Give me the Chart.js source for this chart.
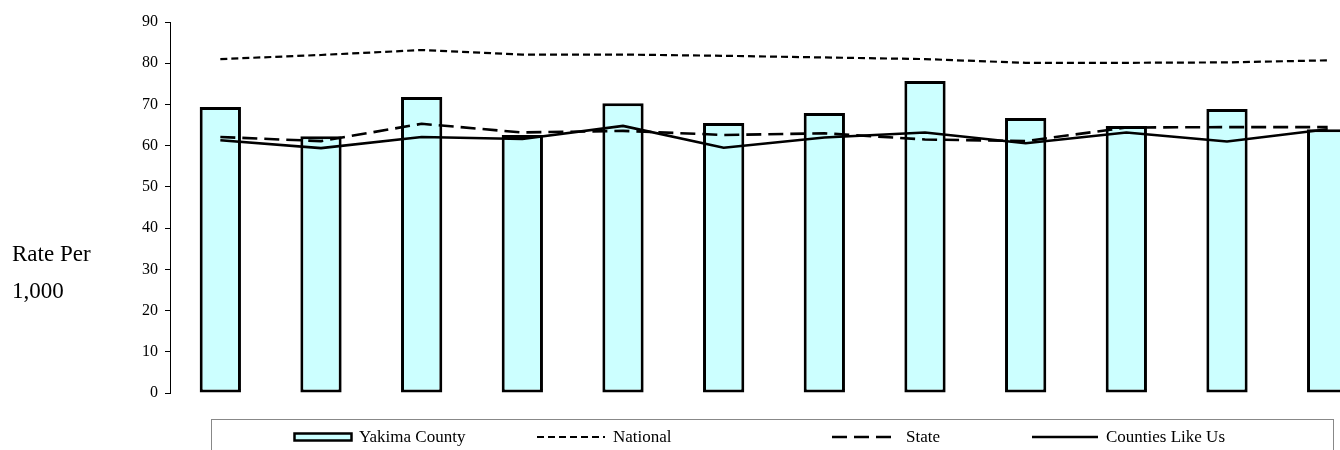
<!DOCTYPE html>
<html>
<head>
<meta charset="utf-8">
<script src="https://cdn.jsdelivr.net/npm/chart.js@4.4.0/dist/chart.umd.min.js"></script>
<style>
  body { margin: 0; width: 1340px; height: 450px; overflow: hidden; background: #fff; position: relative;
         font-family: "Liberation Serif", "Times New Roman", serif; color: #000; }
  #wrap { position: absolute; left: 0; top: 0; width: 1400px; height: 450px; }
  .ylab { position: absolute; left: 12px; font-size: 23px; line-height: 1; }
  #legend { position: absolute; left: 211px; top: 419px; width: 1123px; height: 60px; border: 1px solid #888; box-sizing: border-box; }
  .item { position: absolute; top: 7px; height: 20px; font-size: 17px; line-height: 20px; white-space: nowrap; }
  .item svg { position: absolute; left: 0; top: 0; }
  .item span { position: absolute; top: 0; }
</style>
</head>
<body>
<div id="wrap"><canvas id="chart"></canvas></div>
<div class="ylab" style="top:242px">Rate Per</div>
<div class="ylab" style="top:279px">1,000</div>
<div id="legend"></div>
<script>
(function(Chart){

    var categories = ['1', '2', '3', '4', '5', '6', '7', '8', '9', '10', '11', '12'];
    var seriesNames = ['Yakima County', 'National', 'State', 'Counties Like Us'];

    var yakima = [69.4, 62.3, 71.8, 62.6, 70.3, 65.5, 67.9, 75.7, 66.7, 64.8, 68.9, 64.0];
    var national = [81.0, 82.0, 83.2, 82.1, 82.1, 81.8, 81.4, 81.0, 80.1, 80.1, 80.2, 80.7];
    var state = [62.1, 61.1, 65.3, 63.2, 63.6, 62.6, 63.0, 61.5, 61.1, 64.4, 64.5, 64.5];
    var countiesLikeUs = [61.3, 59.4, 62.1, 61.6, 64.8, 59.5, 62.0, 63.2, 60.6, 63.2, 61.0, 64.0];

    var yMin = 0, yMax = 90, yStep = 10;

    var serif = '"Liberation Serif", "Times New Roman", serif';

    var ctx = document.getElementById('chart').getContext('2d');

    var chart = new Chart(ctx, {
        type: 'bar',
        data: {
            labels: categories,
            datasets: [{
                type: 'bar',
                label: seriesNames[0],
                data: yakima,
                backgroundColor: '#CCFFFF',
                borderColor: '#000',
                borderWidth: 3,
                borderSkipped: false,
                categoryPercentage: 1,
                barPercentage: 0.41,
                order: 2
            }, {
                type: 'line',
                label: seriesNames[1],
                data: national,
                borderColor: '#000',
                borderWidth: 2.2,
                borderDash: [7, 4],
                pointRadius: 0,
                fill: false,
                order: 1
            }, {
                type: 'line',
                label: seriesNames[2],
                data: state,
                borderColor: '#000',
                borderWidth: 2.6,
                borderDash: [15, 7],
                pointRadius: 0,
                fill: false,
                order: 1
            }, {
                type: 'line',
                label: seriesNames[3],
                data: countiesLikeUs,
                borderColor: '#000',
                borderWidth: 2.6,
                pointRadius: 0,
                fill: false,
                order: 1
            }]
        },
        options: {
            responsive: true,
            maintainAspectRatio: false,
            animation: false,
            layout: { padding: { top: 22, bottom: 57, left: 0, right: 22 } },
            plugins: {
                legend: { display: false },
                tooltip: { enabled: false }
            },
            scales: {
                x: { display: false, offset: true },
                y: {
                    min: yMin,
                    max: yMax,
                    ticks: { stepSize: yStep, color: '#000', padding: 7, font: { family: serif, size: 16 } },
                    grid: { drawOnChartArea: false, color: '#000', tickLength: 5 },
                    border: { color: '#000', width: 1 },
                    afterFit: function(scale) { scale.width = 170; }
                }
            }
        }
    });

    // legend built from the dataset names
    var legendPos = [
        { swatch: 81, text: 147 },
        { swatch: 325, text: 401 },
        { swatch: 620, text: 694 },
        { swatch: 820, text: 894 }
    ];

    var swatches = [
        '<svg width="62" height="20"><rect x="1.5" y="6.5" width="57" height="7" fill="#CCFFFF" stroke="#000" stroke-width="2.5"/></svg>',
        '<svg width="70" height="20"><line x1="0" y1="10" x2="68" y2="10" stroke="#000" stroke-width="2" stroke-dasharray="7,4"/></svg>',
        '<svg width="70" height="20"><line x1="0" y1="10" x2="66" y2="10" stroke="#000" stroke-width="2.5" stroke-dasharray="15,7"/></svg>',
        '<svg width="70" height="20"><line x1="0" y1="10" x2="66" y2="10" stroke="#000" stroke-width="2.5"/></svg>'
    ];

    var $legend = document.getElementById('legend');
    seriesNames.forEach(function(name, i) {
        var item = '<div class="item" style="left:' + legendPos[i].swatch + 'px;width:300px">' + swatches[i] +
                   '<span style="left:' + (legendPos[i].text - legendPos[i].swatch) + 'px">' + name + '</span></div>';
        $legend.insertAdjacentHTML('beforeend', item);
    });

})(Chart);
</script>
</body>
</html>
